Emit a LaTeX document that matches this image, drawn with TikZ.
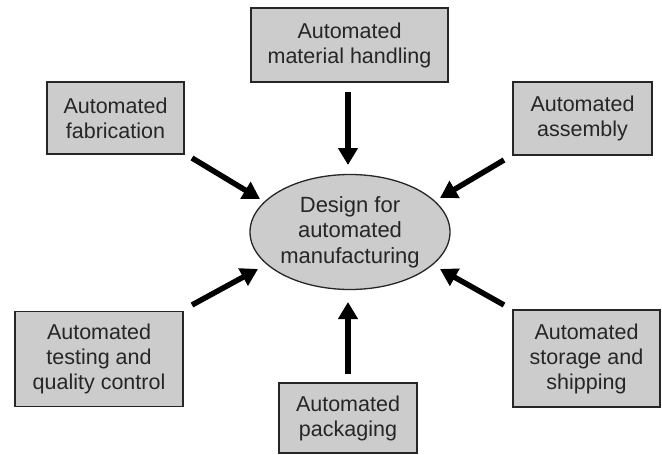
\documentclass[tikz,border=0pt]{standalone}
\usepackage{fontspec}
\setmainfont{Liberation Sans}
\usetikzlibrary{shapes.geometric,arrows.meta}
\begin{document}
\begin{tikzpicture}[x=1pt,y=-1pt,
  box/.style={draw=black!85, line width=1.3pt, fill=black!20, inner sep=0pt,
    align=center, font=\fontsize{21.5}{25}\selectfont, text=black!85},
  ell/.style={ellipse, draw=black!85, line width=1.3pt, fill=black!20, inner sep=0pt,
    align=center, font=\fontsize{22}{25.5}\selectfont, text=black!85},
  arr/.style={line width=5.5pt, black, -{Triangle[length=17pt,width=19pt]}}]
\useasboundingbox (0,0) rectangle (662,455);
\fill[white] (0,0) rectangle (662,455);

\node[box, minimum width=197pt, minimum height=74pt] (mh) at (349.5,45) {Automated\\material handling};
\node[box, minimum width=137pt, minimum height=72pt] (fab) at (115.5,118) {Automated\\fabrication};
\node[box, minimum width=139pt, minimum height=73pt] (asm) at (582.5,118.5) {Automated\\assembly};
\node[box, minimum width=168pt, minimum height=95pt] (tst) at (99,359) {Automated\\testing and\\quality control};
\node[box, minimum width=147pt, minimum height=97pt] (sto) at (586.5,358.5) {Automated\\storage and\\shipping};
\node[box, minimum width=138pt, minimum height=70pt] (pkg) at (348,418) {Automated\\packaging};
\node[ell, minimum width=200pt, minimum height=115pt] (dfm) at (350,232) {Design for\\automated\\manufacturing};

\coordinate (mhA) at (348,92);   \coordinate (mhB) at (348,165);
\coordinate (fabA) at (192,158); \coordinate (fabB) at (260,199);
\coordinate (asmA) at (504,160); \coordinate (asmB) at (440,198);
\coordinate (tstA) at (192,305); \coordinate (tstB) at (258,269);
\coordinate (stoA) at (504,305); \coordinate (stoB) at (440,269);
\coordinate (pkgA) at (348,374); \coordinate (pkgB) at (348,302);

\draw[arr] (mhA) -- (mhB);
\draw[arr] (fabA) -- (fabB);
\draw[arr] (asmA) -- (asmB);
\draw[arr] (tstA) -- (tstB);
\draw[arr] (stoA) -- (stoB);
\draw[arr] (pkgA) -- (pkgB);
\end{tikzpicture}
\end{document}
